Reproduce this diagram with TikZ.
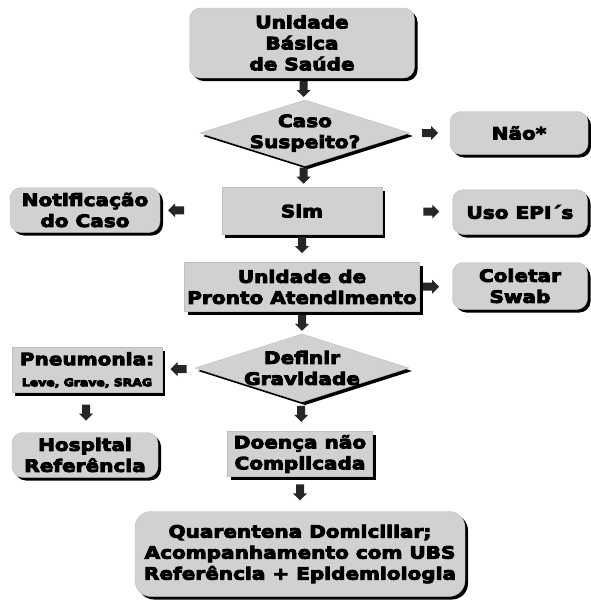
\documentclass[tikz,border=0pt]{standalone}
\usepackage{fontspec}
\setmainfont{DejaVu Sans}[UprightFont={* Bold}, FakeStretch=1.18]
\usetikzlibrary{shadows,calc}
\newcommand\blockarrow[2]{\fill[black!85, shift={(#1)}, rotate=#2] (-8,-4) -- (1,-4) -- (1,-7) -- (8,0) -- (1,7) -- (1,4) -- (-8,4) -- cycle;}
\newcommand\heavyon{\special{pdf:literal direct 2 Tr 0.9 w}}
\newcommand\heavyoff{\special{pdf:literal direct 0 Tr}}
\begin{document}
\begin{tikzpicture}[x=1pt,y=-1pt,
  shad/.style={drop shadow={shadow xshift=3pt, shadow yshift=-3pt, fill=black, opacity=1}},
  txt/.style={align=center, inner sep=0pt, font=\fontsize{17}{21}\selectfont,
    execute at begin node=\heavyon, execute at end node=\heavyoff},
  base/.style={txt, fill=black!18, draw=black!25, line width=0.4pt, shad},
  rbox/.style={base, rounded corners=11pt},
  sbox/.style={base},
  dtext/.style={txt},
  dshape/.style={fill=black!18, draw=black!25, line width=0.4pt, shad}
]
\useasboundingbox (0,0) rectangle (591,608);
\node[rbox, minimum width=225pt, minimum height=70pt] (ubs) at (302,43) {Unidade\\Básica\\de Saúde};
\path[dshape] (200,133) -- (305,100) -- (410,133) -- (305,166) -- cycle;
\node[dtext, minimum width=210pt, minimum height=66pt] (caso) at (305,133) {Caso\\Suspeito?};
\node[rbox, minimum width=138pt, minimum height=43pt] (nao) at (519,133) {Não*};
\node[sbox, minimum width=160pt, minimum height=47pt] (sim) at (302,211) {Sim};
\node[rbox, minimum width=135pt, minimum height=45pt] (epi) at (520,212) {Uso EPI´s};
\node[rbox, minimum width=150pt, minimum height=45pt] (notif) at (85,210) {Notificação\\do Caso};
\node[sbox, minimum width=235pt, minimum height=49pt] (upa) at (302,287) {Unidade de\\Pronto Atendimento};
\node[rbox, minimum width=135pt, minimum height=47pt] (swab) at (520,286) {Coletar\\Swab};
\path[dshape] (195,368) -- (302,334) -- (409,368) -- (302,402) -- cycle;
\node[dtext, minimum width=214pt, minimum height=68pt] (def) at (302,368) {Definir\\Gravidade};
\node[sbox, minimum width=150pt, minimum height=45pt] (pneu) at (87,370) {Pneumonia:\\{\fontsize{10.5}{13}\selectfont Leve, Grave, SRAG}};
\node[rbox, minimum width=146pt, minimum height=45pt] (hosp) at (85,455) {Hospital\\Referência};
\node[sbox, minimum width=145pt, minimum height=45pt] (doenca) at (300,454) {Doença não\\Complicada};
\node[rbox, minimum width=330pt, minimum height=85pt, rounded corners=16pt] (quar) at (300,554) {Quarentena Domiciliar;\\Acompanhamento com UBS\\Referência + Epidemiologia};

\coordinate (a1) at ($(ubs.south)!0.5!(caso.north)$);
\coordinate (a2) at ($(caso.east)!0.5!(nao.west)$);
\coordinate (a3) at ($(caso.south)!0.45!(sim.north)$);
\coordinate (a4) at ($(sim.east)!0.7!(epi.west)$);
\coordinate (a5) at ($(sim.west)!0.74!(notif.east)$);
\coordinate (a6) at ($(sim.south)!0.38!(upa.north)$);
\coordinate (a7) at ($(upa.east)!0.35!(swab.west)$);
\coordinate (a8) at ($(upa.south)!0.5!(def.north)$);
\coordinate (a9) at ($(def.west)!0.5!(pneu.east)$);
\coordinate (a10) at ($(pneu.south)!0.5!(hosp.north)$);
\coordinate (a11) at ($(def.south)!0.4!(doenca.north)$);
\coordinate (a12) at ($(doenca.south)!0.45!(quar.north)$);
\blockarrow{a1}{270}
\blockarrow{a2}{0}
\blockarrow{a3}{270}
\blockarrow{a4}{0}
\blockarrow{a5}{180}
\blockarrow{a6}{270}
\blockarrow{a7}{0}
\blockarrow{a8}{270}
\blockarrow{a9}{180}
\blockarrow{a10}{270}
\blockarrow{a11}{270}
\blockarrow{a12}{270}
\end{tikzpicture}
\end{document}
